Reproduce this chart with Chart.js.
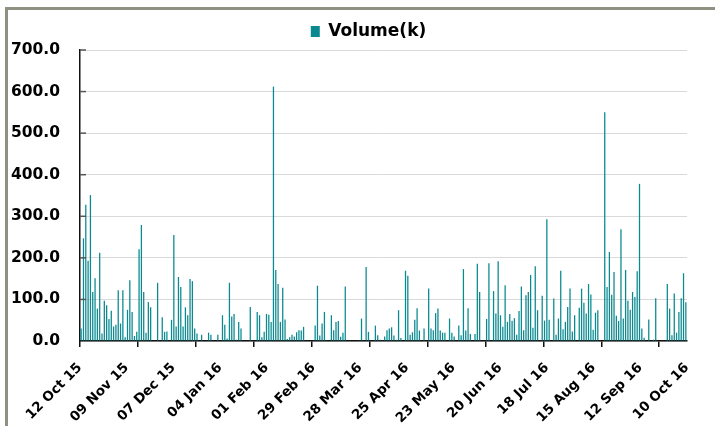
<!DOCTYPE html>
<html><head><meta charset="utf-8">
<script src="https://cdn.jsdelivr.net/npm/chart.js@4.4.1/dist/chart.umd.min.js"></script>
<style>
html,body{margin:0;padding:0;background:#fff;}
#wrap{position:relative;width:715px;height:426px;overflow:hidden;background:#fff;}
#frame{position:absolute;left:5px;top:7px;width:800px;height:600px;border-top:3px solid #8F9282;border-left:3px solid #8F9282;}
canvas{position:absolute;left:0;top:0;}
</style></head><body>
<div id="wrap"><div id="frame"></div><canvas id="c" width="715" height="426"></canvas></div>
<script>
// Daily (weekday) volume in thousands
const volume = [
30,247,328,193,351,118,151,78,212,18,97,86,53,73,35,39,122,42,122,9,
75,146,70,12,22,221,279,118,20,94,81,0,0,140,0,57,22,23,0,51,
255,35,154,130,35,81,62,149,144,30,18,0,15,0,0,20,15,0,0,15,
0,62,39,6,140,59,65,3,46,30,0,0,0,82,0,0,70,
62,9,22,65,63,46,612,171,137,46,128,52,5,9,15,11,21,26,25,34,
0,0,0,0,37,133,13,42,70,2,0,62,26,46,48,10,20,131,0,2,
0,0,0,2,54,0,178,22,0,0,37,14,3,2,11,26,30,33,13,3,
74,7,0,169,157,15,21,51,79,25,0,30,0,126,30,26,67,78,25,20,
20,0,54,20,11,0,
37,14,173,25,79,17,0,17,186,118,0,0,53,187,0,120,66,192,62,34,
134,46,65,49,55,15,72,131,26,110,118,159,32,180,74,0,109,49,293,51,
0,102,15,54,169,28,46,82,126,23,62,0,80,126,92,66,137,112,27,68,
74,0,0,550,130,214,111,166,61,48,269,54,171,97,75,118,106,168,378,30,
8,0,52,0,3,103,0,0,0,0,137,78,14,114,20,70,103,163,93
];
const tickLabels = ['12 Oct 15','09 Nov 15','07 Dec 15','04 Jan 16','01 Feb 16','29 Feb 16','28 Mar 16','25 Apr 16','23 May 16','20 Jun 16','18 Jul 16','15 Aug 16','12 Sep 16','10 Oct 16'];
const yTicks = [0,100,200,300,400,500,600,700];
const tickEvery = 25;
const seriesName = 'Volume(k)';

// categories: weekdays starting 12 Oct 2015
const months = ['Jan','Feb','Mar','Apr','May','Jun','Jul','Aug','Sep','Oct','Nov','Dec'];
const categories = [];
const d = new Date(Date.UTC(2015, 9, 12));
while (categories.length < volume.length) {
  const wd = d.getUTCDay();
  if (wd !== 0 && wd !== 6) {
    categories.push(String(d.getUTCDate()).padStart(2,'0') + ' ' + months[d.getUTCMonth()] + ' ' + String(d.getUTCFullYear()).slice(2));
  }
  d.setUTCDate(d.getUTCDate() + 1);
}

Chart.defaults.font.family = 'DejaVu Sans';
Chart.defaults.font.weight = 'bold';
Chart.defaults.color = '#000';

const insideTicks = {
  id: 'insideTicks',
  afterDatasetsDraw(chart) {
    const y = chart.scales.y, ctx = chart.ctx;
    ctx.save();
    ctx.strokeStyle = '#555';
    ctx.lineWidth = 1.5;
    y.ticks.forEach((t) => {
      if (t.value === 0) return;
      const py = y.getPixelForValue(t.value);
      ctx.beginPath(); ctx.moveTo(y.right, py); ctx.lineTo(y.right + 6, py); ctx.stroke();
    });
    ctx.restore();
  }
};
// legend in the original sits centred over the plot rather than the canvas
const legendShift = {
  id: 'legendShift',
  afterLayout(chart) {
    const lg = chart.legend;
    if (lg) { lg.left += 25; lg.right += 25; }
  }
};

new Chart(document.getElementById('c'), {
  type: 'bar',
  data: {
    labels: categories,
    datasets: [{
      label: seriesName,
      data: volume,
      backgroundColor: '#0A8A90',
      borderWidth: 0,
      barPercentage: 0.55,
      categoryPercentage: 1.0,
      xAxisID: 'x', yAxisID: 'y'
    }]
  },
  options: {
    responsive: false,
    animation: false,
    layout: { padding: { left: 0, right: 28, top: 11, bottom: 0 } },
    plugins: {
      legend: {
        display: true, position: 'top',
        labels: { boxWidth: 9, boxHeight: 11, padding: 12, color: '#000', font: { size: 17, weight: 'bold' } }
      },
      tooltip: { enabled: false }
    },
    scales: {
      y: {
        min: 0, max: 700,
        afterFit(s) { s.width = 80; },
        afterBuildTicks(s) { s.ticks = yTicks.map(v => ({ value: v })); },
        ticks: { padding: 20, font: { size: 15.5, weight: 'bold' }, color: '#000', callback: v => Number(v).toFixed(1) },
        grid: { color: '#D9D9D9', lineWidth: 1, drawTicks: false },
        border: { display: true, color: '#111', width: 1.5 }
      },
      x: {
        position: 'bottom',
        ticks: { display: false },
        grid: {
          drawOnChartArea: false, drawTicks: true, tickLength: 6, lineWidth: 1.5,
          color: ctx => (ctx.index % tickEvery === 0 ? '#111' : 'rgba(0,0,0,0)')
        },
        border: { display: true, color: '#111', width: 1.5 }
      },
      xl: {
        type: 'category',
        position: 'bottom',
        labels: tickLabels,
        offset: false,
        afterFit(s) { s.height = 79; },
        grid: { display: false, drawTicks: false },
        border: { display: false },
        ticks: { autoSkip: false, maxRotation: 45, minRotation: 45, padding: 13, color: '#000', font: { size: 13.5, weight: 'bold' } }
      }
    }
  },
  plugins: [insideTicks, legendShift]
});
</script>
</body></html>
